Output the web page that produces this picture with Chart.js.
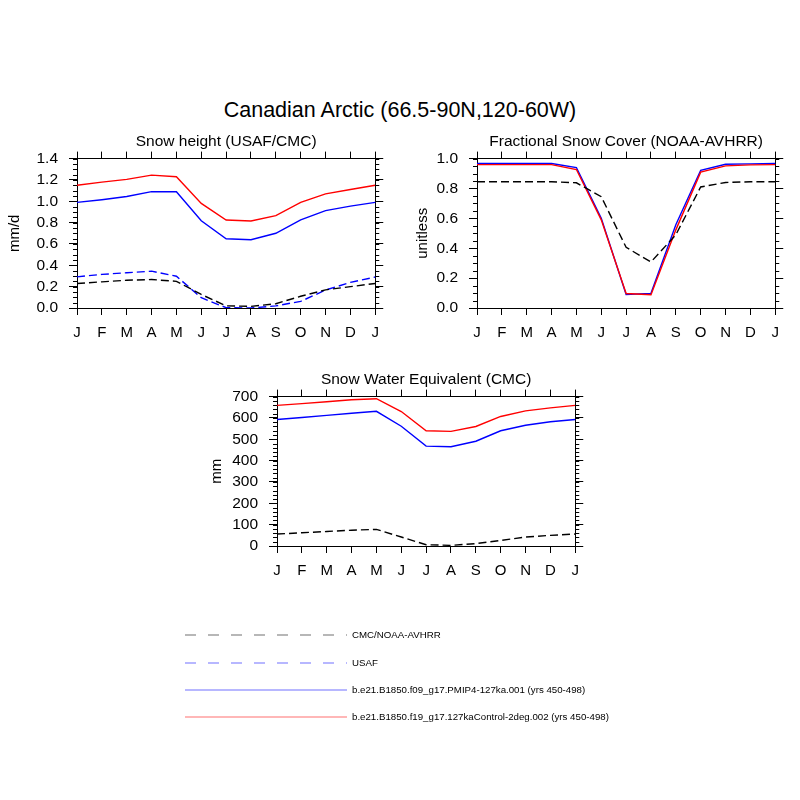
<!DOCTYPE html>
<html>
<head>
<meta charset="utf-8">
<script src="https://cdn.jsdelivr.net/npm/chart.js@4.4.0/dist/chart.umd.min.js"></script>
<style>
  body { margin: 0; background: #fff; }
  #page { position: relative; width: 800px; height: 800px; background: #fff; font-family: "Liberation Sans", Arial, sans-serif; }
  #page canvas { position: absolute; }
  #title { position: absolute; left: 0; width: 800px; top: 98px; text-align: center; font-size: 21.5px; line-height: 24px; color: #000; }
  #lineas { position: absolute; left: 0; top: 0; }
  .leg { position: absolute; left: 352px; font-size: 9.7px; line-height: 12px; color: #000; white-space: nowrap; }
</style>
</head>
<body>
<div id="page">
  <div id="title">Canadian Arctic (66.5-90N,120-60W)</div>
  <canvas id="c1" width="382" height="216" style="left:6px;top:132px"></canvas>
  <canvas id="c2" width="374" height="216" style="left:414px;top:132px"></canvas>
  <canvas id="c3" width="380" height="216" style="left:208px;top:370px"></canvas>
  <svg id="lineas" width="800" height="800" xmlns="http://www.w3.org/2000/svg"></svg>
  <div id="legend"></div>
</div>
<script>
// ------------------------------
// Datos
// ------------------------------
const meses = ["J", "F", "M", "A", "M", "J", "J", "A", "S", "O", "N", "D", "J"];

// Snow height (mm/d)
const alturaCMC  = [0.23, 0.245, 0.26, 0.267, 0.25, 0.127, 0.02, 0.015, 0.04, 0.11, 0.17, 0.2, 0.23];
const alturaUSAF = [0.292, 0.315, 0.33, 0.345, 0.298, 0.096, 0.003, 0.0, 0.02, 0.062, 0.168, 0.24, 0.29];
const alturaPMIP = [0.99, 1.015, 1.045, 1.09, 1.09, 0.817, 0.649, 0.64, 0.70, 0.826, 0.913, 0.955, 0.99];
const alturaCtrl = [1.15, 1.18, 1.205, 1.245, 1.23, 0.98, 0.825, 0.815, 0.865, 0.99, 1.07, 1.11, 1.15];

// Fractional snow cover (unitless)
const fscNOAA = [0.845, 0.845, 0.845, 0.845, 0.838, 0.745, 0.406, 0.308, 0.49, 0.81, 0.84, 0.845, 0.845];
const fscPMIP = [0.967, 0.967, 0.967, 0.967, 0.94, 0.60, 0.09, 0.098, 0.557, 0.922, 0.962, 0.965, 0.967];
const fscCtrl = [0.96, 0.96, 0.96, 0.96, 0.927, 0.59, 0.097, 0.089, 0.523, 0.909, 0.951, 0.958, 0.96];

// Snow water equivalent (mm)
const sweCMC  = [56, 62, 68, 74, 78, 42, 6, 3, 11, 26, 42, 50, 56];
const swePMIP = [593, 602, 612, 622, 631, 561, 468, 465, 491, 540, 566, 582, 593];
const sweCtrl = [659, 667, 676, 685, 690, 630, 540, 537, 560, 607, 633, 647, 659];

// ejes: [min, max, paso mayor, paso menor]
const ejeAltura = [0, 1.4, 0.2, 0.05];
const ejeFsc    = [0, 1.0, 0.2, 0.05];
const ejeSwe    = [0, 700, 100, 20];

const nombres = [
  "CMC/NOAA-AVHRR",
  "USAF",
  "b.e21.B1850.f09_g17.PMIP4-127ka.001 (yrs 450-498)",
  "b.e21.B1850.f19_g17.127kaControl-2deg.002 (yrs 450-498)"
];

const FUENTE = "'Liberation Sans', Arial, sans-serif";
const RAYA = [8, 4];

// ------------------------------
// Ticks menores en los ejes Y
// ------------------------------
const ticksMenores = {
  id: "ticksMenores",
  afterDraw(chart, args, opts) {
    const { ctx, chartArea } = chart;
    const y = chart.scales.y;
    ctx.save();
    ctx.strokeStyle = "#000";
    ctx.lineWidth = 1;
    const n = Math.round((y.max - y.min) / opts.paso);
    for (let i = 0; i <= n; i++) {
      const py = Math.round(y.getPixelForValue(y.min + i * opts.paso)) + 0.5;
      ctx.beginPath();
      ctx.moveTo(chartArea.left - 4, py); ctx.lineTo(chartArea.left, py);
      ctx.moveTo(chartArea.right, py); ctx.lineTo(chartArea.right + 4, py);
      ctx.stroke();
    }
    ctx.restore();
  }
};

function serie(datos, color, raya) {
  return {
    data: datos,
    borderColor: color,
    borderWidth: 1.4,
    borderDash: raya ? RAYA : [],
    pointRadius: 0,
    tension: 0,
    fill: false
  };
}

function crearPanel(id, titulo, unidad, eje, anchoIzq, decimales, series) {
  const [ymin, ymax, paso, pasoMenor] = eje;
  const grid = { drawOnChartArea: false, drawTicks: true, color: "#000", tickLength: 7 };
  const borde = { display: true, color: "#000", width: 1 };
  new Chart(document.getElementById(id), {
    type: "line",
    data: { labels: meses, datasets: series },
    plugins: [ticksMenores],
    options: {
      responsive: false,
      animation: false,
      layout: { padding: 0 },
      plugins: {
        legend: { display: false },
        tooltip: { enabled: false },
        title: {
          display: true,
          fullSize: false,
          text: titulo,
          color: "#000",
          font: { family: FUENTE, size: 15.5, weight: "normal", lineHeight: 1.2 },
          padding: { top: 0, bottom: 0 }
        },
        ticksMenores: { paso: pasoMenor }
      },
      scales: {
        x: {
          type: "category",
          position: "bottom",
          offset: false,
          grid: grid,
          border: borde,
          ticks: { color: "#000", padding: 9, autoSkip: false, maxRotation: 0, font: { family: FUENTE, size: 15 } },
          afterFit: s => { s.height = 40; }
        },
        x2: {
          type: "category",
          position: "top",
          offset: false,
          grid: grid,
          border: borde,
          ticks: { display: false, autoSkip: false },
          afterFit: s => { s.height = 8; }
        },
        y: {
          type: "linear",
          position: "left",
          min: ymin,
          max: ymax,
          grid: Object.assign({}, grid, { tickLength: 8 }),
          border: borde,
          title: {
            display: true,
            text: unidad,
            color: "#000",
            padding: 0,
            font: { family: FUENTE, size: 15, lineHeight: 1.2 }
          },
          ticks: {
            stepSize: paso,
            autoSkip: false,
            color: "#000",
            padding: 11,
            font: { family: FUENTE, size: 15.5 },
            callback: v => Number(v).toFixed(decimales)
          },
          afterFit: s => { s.width = anchoIzq; }
        },
        y2: {
          type: "linear",
          position: "right",
          min: ymin,
          max: ymax,
          grid: Object.assign({}, grid, { tickLength: 8 }),
          border: borde,
          ticks: { display: false, autoSkip: false, stepSize: paso },
          afterFit: s => { s.width = 10; }
        }
      }
    }
  });
}

crearPanel("c1", "Snow height (USAF/CMC)", "mm/d", ejeAltura, 71, 1, [
  serie(alturaCMC, "#000000", true),
  serie(alturaUSAF, "#0000ff", true),
  serie(alturaCtrl, "#ff0000", false),
  serie(alturaPMIP, "#0000ff", false)
]);

crearPanel("c2", "Fractional Snow Cover (NOAA-AVHRR)", "unitless", ejeFsc, 63, 1, [
  serie(fscNOAA, "#000000", true),
  serie(fscCtrl, "#ff0000", false),
  serie(fscPMIP, "#0000ff", false)
]);

crearPanel("c3", "Snow Water Equivalent (CMC)", "mm", ejeSwe, 69, 0, [
  serie(sweCMC, "#000000", true),
  serie(sweCtrl, "#ff0000", false),
  serie(swePMIP, "#0000ff", false)
]);

// ------------------------------
// Leyenda
// ------------------------------
const leyenda = document.getElementById("legend");
const svg = document.getElementById("lineas");
const estilos = [
  { color: "#707070", raya: "11 12" },
  { color: "#7070ff", raya: "11 12" },
  { color: "#7070ff", raya: "none" },
  { color: "#ff7070", raya: "none" }
];
const filasY = [635, 663, 690, 717];

nombres.forEach((nombre, i) => {
  const l = document.createElementNS("http://www.w3.org/2000/svg", "line");
  l.setAttribute("x1", 185);
  l.setAttribute("x2", 347);
  l.setAttribute("y1", filasY[i]);
  l.setAttribute("y2", filasY[i]);
  l.setAttribute("stroke", estilos[i].color);
  l.setAttribute("stroke-width", 1.2);
  l.setAttribute("stroke-dasharray", estilos[i].raya);
  svg.appendChild(l);

  const t = document.createElement("div");
  t.className = "leg";
  t.style.top = (filasY[i] - 6) + "px";
  t.textContent = nombre;
  leyenda.appendChild(t);
});
</script>
</body>
</html>
